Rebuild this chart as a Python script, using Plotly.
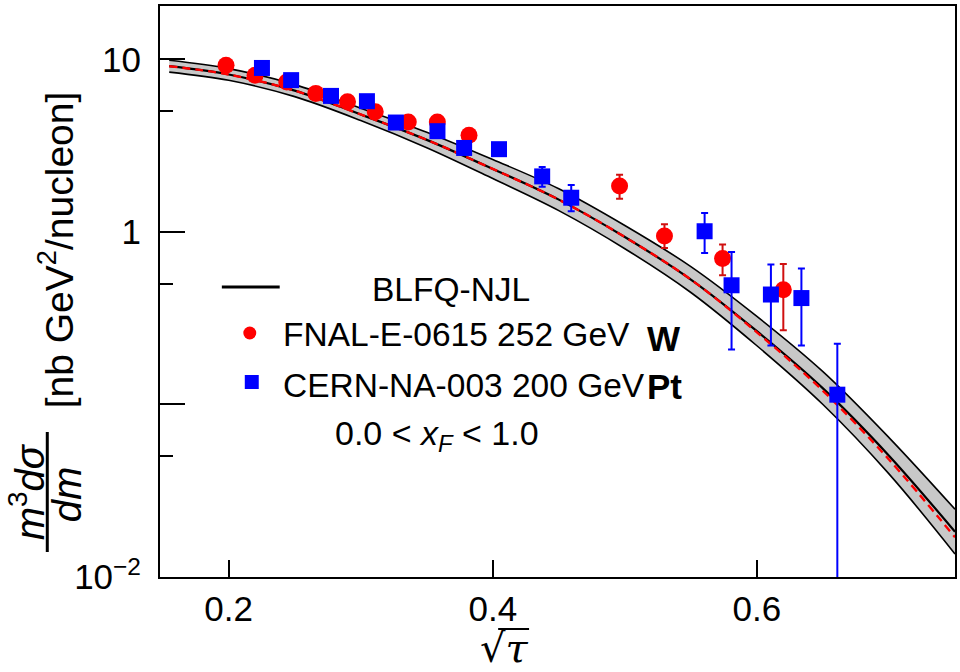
import plotly.graph_objects as go

# ---------------- data ----------------
# Theory band (BLFQ-NJL)
x_theory = [0.155, 0.2, 0.25, 0.3, 0.35, 0.4, 0.45, 0.5, 0.55, 0.6, 0.65, 0.7, 0.75]
y_center = [9.14, 8.18, 6.60, 4.80, 3.42, 2.32, 1.54, 0.935, 0.530, 0.266, 0.124, 0.0505, 0.0183]
y_upper = [9.89, 8.85, 7.15, 5.22, 3.79, 2.63, 1.78, 1.09, 0.630, 0.324, 0.155, 0.0643, 0.0247]
y_lower = [8.45, 7.57, 6.09, 4.43, 3.08, 2.04, 1.33, 0.80, 0.446, 0.219, 0.100, 0.0396, 0.0136]
y_dashed = [9.14, 8.18, 6.60, 4.80, 3.42, 2.32, 1.54, 0.935, 0.530, 0.262, 0.120, 0.0480, 0.0170]

# FNAL-E-0615 252 GeV (W)
fnal_x = [0.198, 0.220, 0.244, 0.266, 0.290, 0.311, 0.336, 0.358, 0.382, 0.496, 0.530, 0.574, 0.620]
fnal_y = [9.27, 8.11, 7.41, 6.36, 5.68, 4.97, 4.34, 4.34, 3.64, 1.85, 0.948, 0.702, 0.463]
fnal_hi = [9.27, 8.11, 7.41, 6.36, 5.68, 4.97, 4.34, 4.34, 3.64, 2.15, 1.11, 0.845, 0.652]
fnal_lo = [9.27, 8.11, 7.41, 6.36, 5.68, 4.97, 4.34, 4.34, 3.64, 1.56, 0.807, 0.561, 0.269]

# CERN-NA-003 200 GeV (Pt)
cern_x = [0.2252, 0.2473, 0.2775, 0.3047, 0.3266, 0.3581, 0.3783, 0.4047, 0.4374, 0.4594,
          0.5604, 0.5808, 0.6106, 0.6337, 0.6609]
cern_y = [8.93, 7.59, 6.15, 5.73, 4.31, 3.84, 3.07, 3.02, 2.10, 1.58, 1.01, 0.491, 0.434, 0.414, 0.114]
cern_hi = [8.93, 7.59, 6.15, 5.73, 4.31, 3.84, 3.07, 3.02, 2.38, 1.87, 1.29, 0.766, 0.647, 0.614, 0.225]
cern_lo = [8.93, 7.59, 6.15, 5.73, 4.31, 3.84, 3.07, 3.02, 1.83, 1.32, 0.755, 0.208, 0.220, 0.220, 0.001]

x_tickvals = [0.2, 0.4, 0.6]
x_ticktext = ["0.2", "0.4", "0.6"]
y_tickvals = [0.01, 0.1, 1, 10]
y_ticktext = ["10<sup>\u22122</sup>", " ", "1", "10"]
y_minorvals = [0.05, 0.5, 5]

FONT = "Liberation Sans, Arial, Helvetica, sans-serif"
RED = "#ff0000"
BLUE = "#0000ff"

fig = go.Figure()

# band
fig.add_trace(go.Scatter(x=x_theory, y=y_lower, mode="lines",
                         line=dict(color="black", width=1.6, shape="spline"),
                         showlegend=False, hoverinfo="skip"))
fig.add_trace(go.Scatter(x=x_theory, y=y_upper, mode="lines",
                         line=dict(color="black", width=1.6, shape="spline"),
                         fill="tonexty", fillcolor="#c8c8c8",
                         showlegend=False, hoverinfo="skip"))
fig.add_trace(go.Scatter(x=x_theory, y=y_center, mode="lines", name="BLFQ-NJL",
                         line=dict(color="black", width=2.2, shape="spline"),
                         showlegend=False))
fig.add_trace(go.Scatter(x=x_theory, y=y_dashed, mode="lines",
                         line=dict(color=RED, width=2.4, dash="8px,5px", shape="spline"),
                         showlegend=False, hoverinfo="skip"))

# data
fig.add_trace(go.Scatter(
    x=fnal_x, y=fnal_y, mode="markers", name="FNAL-E-0615 252 GeV",
    marker=dict(symbol="circle", size=17, color=RED),
    error_y=dict(type="data", symmetric=False,
                 array=[h - v for h, v in zip(fnal_hi, fnal_y)],
                 arrayminus=[v - l for l, v in zip(fnal_lo, fnal_y)],
                 color="#d01010", thickness=2, width=3.5),
    showlegend=False))
fig.add_trace(go.Scatter(
    x=cern_x, y=cern_y, mode="markers", name="CERN-NA-003 200 GeV",
    marker=dict(symbol="square", size=16, color=BLUE),
    error_y=dict(type="data", symmetric=False,
                 array=[h - v for h, v in zip(cern_hi, cern_y)],
                 arrayminus=[v - l for l, v in zip(cern_lo, cern_y)],
                 color=BLUE, thickness=2, width=3.5),
    showlegend=False))

L, R, T, B = 160, 3, 6, 95
W, H = 960, 672
pw, ph = W - L - R, H - T - B


def px(xp):
    return (xp - L) / pw


def py(yp):
    return (H - B - yp) / ph


ann = []
shapes = []
# legend
shapes.append(dict(type="line", xref="paper", yref="paper", x0=px(222), x1=px(280),
                   y0=py(287), y1=py(287), line=dict(color="black", width=3)))
ann.append(dict(text="BLFQ-NJL", x=px(452), y=py(289), xanchor="center", yanchor="middle"))
shapes.append(dict(type="circle", xref="paper", yref="paper", x0=px(243.5), x1=px(256.5),
                   y0=py(339.5), y1=py(326.5), fillcolor=RED, line=dict(width=0)))
ann.append(dict(text="FNAL-E-0615 252 GeV", x=px(281), y=py(334), xanchor="left", yanchor="middle"))
shapes.append(dict(type="rect", xref="paper", yref="paper", x0=px(245), x1=px(259),
                   y0=py(389), y1=py(375), fillcolor=BLUE, line=dict(width=0)))
ann.append(dict(text="CERN-NA-003 200 GeV", x=px(281), y=py(385), xanchor="left", yanchor="middle"))
ann.append(dict(text="<b>W</b>", x=px(646), y=py(338), xanchor="left", yanchor="middle",
                font=dict(size=35)))
ann.append(dict(text="<b>Pt</b>", x=px(646), y=py(386), xanchor="left", yanchor="middle",
                font=dict(size=35)))
ann.append(dict(text="0.0 &lt; <i>x</i><sub><i>F</i></sub> &lt; 1.0", x=px(333), y=py(436),
                xanchor="left", yanchor="middle", font=dict(size=34)))

# axis titles
ann.append(dict(text="\u221A<i>\u03C4</i>", x=px(505), y=py(648), xanchor="center",
                yanchor="middle", font=dict(size=40, family="DejaVu Serif, serif")))
shapes.append(dict(type="line", xref="paper", yref="paper", x0=px(499), x1=px(530),
                   y0=py(629), y1=py(629), line=dict(color="black", width=2)))
ann.append(dict(text="[nb GeV<sup>2</sup>/nucleon]", x=px(55), y=py(250), textangle=-90,
                xanchor="center", yanchor="middle", font=dict(size=39)))
ann.append(dict(text="<i>m</i><sup>3</sup><i>d\u03C3</i>", x=px(27), y=py(492), textangle=-90,
                xanchor="center", yanchor="middle", font=dict(size=40)))
ann.append(dict(text="<i>dm</i>", x=px(67), y=py(494), textangle=-90,
                xanchor="center", yanchor="middle", font=dict(size=40)))
shapes.append(dict(type="line", xref="paper", yref="paper", x0=px(47), x1=px(47),
                   y0=py(432), y1=py(552), line=dict(color="black", width=3)))

for a in ann:
    a.setdefault("xref", "paper")
    a.setdefault("yref", "paper")
    a.setdefault("showarrow", False)
    f = a.setdefault("font", {})
    f.setdefault("size", 33.5)
    f.setdefault("family", FONT)
    f.setdefault("color", "black")

fig.update_layout(
    width=W, height=H,
    margin=dict(l=L, r=R, t=T, b=B, pad=0),
    paper_bgcolor="white", plot_bgcolor="white",
    font=dict(family=FONT, size=32, color="black"),
    annotations=ann, shapes=shapes, showlegend=False,
    xaxis=dict(range=[0.148, 0.75], tickvals=x_tickvals, ticktext=x_ticktext,
               ticks="inside", ticklen=17, tickwidth=2, tickcolor="black",
               showline=True, linecolor="black", linewidth=2, mirror=True,
               showgrid=False, zeroline=False, ticklabelstandoff=0,
               tickfont=dict(size=35, family=FONT)),
    yaxis=dict(type="log", range=[-2, 1.31], tickvals=y_tickvals, ticktext=y_ticktext,
               ticks="inside", ticklen=25, tickwidth=2, tickcolor="black",
               minor=dict(tickvals=y_minorvals, ticks="inside", ticklen=13,
                          tickwidth=2, tickcolor="black", showgrid=False),
               showline=True, linecolor="black", linewidth=2, mirror=True,
               showgrid=False, zeroline=False, ticklabelstandoff=10,
               tickfont=dict(size=35, family=FONT)),
)

fig.write_html("out.html")
